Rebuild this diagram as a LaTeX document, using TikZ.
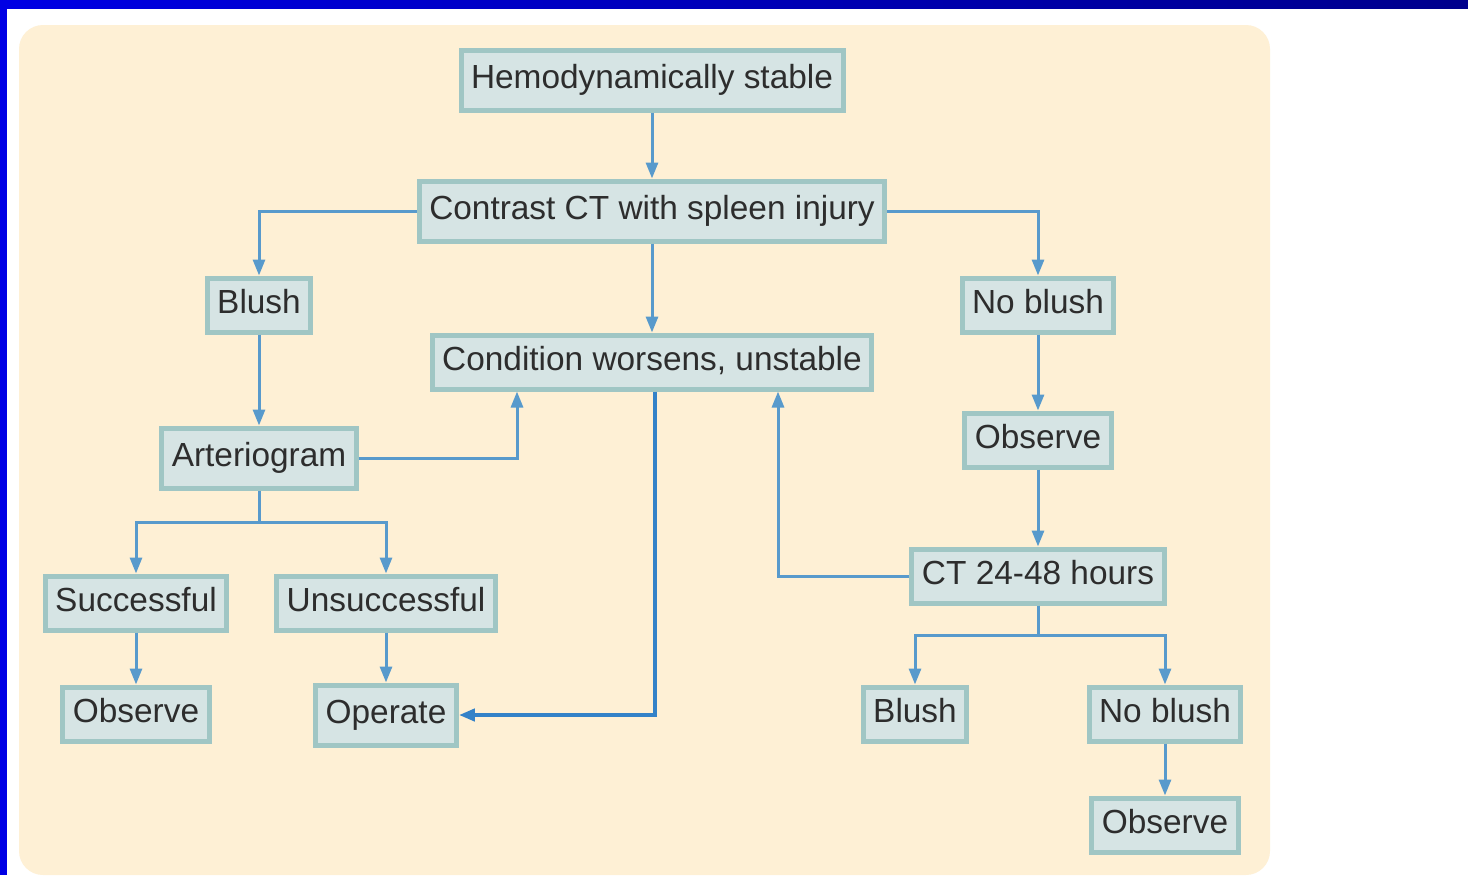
\documentclass[tikz,border=0pt]{standalone}
\usepackage{fontspec}
\setmainfont{Liberation Sans}
\usetikzlibrary{positioning, arrows.meta}
\definecolor{cream}{RGB}{254,240,213}
\definecolor{boxfill}{RGB}{214,228,228}
\definecolor{boxline}{RGB}{160,198,196}
\definecolor{linkblue}{RGB}{88,154,204}
\definecolor{darklink}{RGB}{52,130,200}
\definecolor{txt}{RGB}{45,45,45}
\tikzset{->, >={Triangle[length=8pt,width=6pt]}}

\begin{document}
\begin{tikzpicture}[x=0.5pt,y=-0.5pt,on grid,
    box/.style={draw=boxline, fill=boxfill, line width=2.5pt, text=txt,
      font=\fontsize{16.7}{20}\selectfont, inner xsep=5pt,
      text height=12pt, text depth=3.6pt, minimum height=27pt},
    tall/.style={minimum height=30pt},
    link/.style={draw=linkblue, line width=1.5pt},
    thicklink/.style={draw=darklink, line width=2pt}]

  % page and panel
  \useasboundingbox (0,0) rectangle (1468,875);
  \fill[white] (0,0) rectangle (1468,875);
  \fill[cream, rounded corners=12pt] (19,25) rectangle (1270,875);
  \fill[blue!90!black] (0,0) rectangle (7,875);
  \shade[left color={rgb,255:red,0;green,0;blue,228}, right color={rgb,255:red,0;green,0;blue,140}]
    (0,0) rectangle (1468,8);

  \node[box,tall] (hemo) at (652,80) {Hemodynamically stable};
  \node[box,tall] (contrast) [below=65.5pt of hemo] {Contrast CT with spleen injury};
  \node[box] (cond) [below=75.5pt of contrast] {Condition worsens, unstable};

  % left branch
  \node[box] (blush) [below left=47pt and 196.5pt of contrast] {Blush};
  \node[box,tall] (arterio) [below=76.5pt of blush] {Arteriogram};
  \node[box] (succ) [below left=72.5pt and 61.5pt of arterio] {Successful};
  \node[box] (unsucc) [below right=72.5pt and 63.5pt of arterio] {Unsuccessful};
  \node[box] (obsleft) [below=55.5pt of succ] {Observe};
  \node[box,tall] (operate) [below=56pt of unsucc] {Operate};

  % right branch
  \node[box] (noblush) [below right=47pt and 193pt of contrast] {No blush};
  \node[box] (obsright) [below=67.5pt of noblush] {Observe};
  \node[box] (ctlate) [below=68pt of obsright] {CT 24-48 hours};
  \node[box] (blushlate) [below left=69pt and 61.5pt of ctlate] {Blush};
  \node[box] (noblushlate) [below right=69pt and 63.5pt of ctlate] {No blush};
  \node[box] (obslate) [below=55.5pt of noblushlate] {Observe};

  \coordinate (asplit) at ([yshift=-16pt]arterio.south);
  \coordinate (ctsplit) at ([yshift=-15pt]ctlate.south);

  \draw[link] (hemo) -- (contrast);
  \draw[link] (contrast.west) -| (blush);
  \draw[link] (contrast.east) -| (noblush);
  \draw[link] (contrast) -- (cond);
  \draw[link] (blush) -- (arterio);
  \draw[link] (arterio.east) -| ([xshift=-67.5pt]cond.south);
  \draw[link,-] (arterio.south) -- (asplit);
  \draw[link] (asplit) -| (succ);
  \draw[link] (asplit) -| (unsucc);
  \draw[link] (succ) -- (obsleft);
  \draw[link] (unsucc) -- (operate);
  \draw[thicklink] ([xshift=1.5pt]cond.south) |- (operate.east);

  \draw[link] (noblush) -- (obsright);
  \draw[link] (obsright) -- (ctlate);
  \draw[link] (ctlate.west) -| ([xshift=63pt]cond.south);
  \draw[link,-] (ctlate.south) -- (ctsplit);
  \draw[link] (ctsplit) -| (blushlate);
  \draw[link] (ctsplit) -| (noblushlate);
  \draw[link] (noblushlate) -- (obslate);

\end{tikzpicture}
\end{document}
